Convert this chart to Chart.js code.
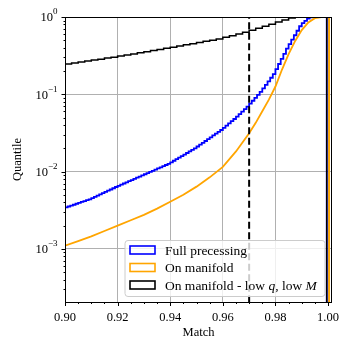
<!DOCTYPE html>
<html>
<head>
<meta charset="utf-8">
<script src="https://cdn.jsdelivr.net/npm/chart.js@4.4.1/dist/chart.umd.min.js"></script>
<style>
  html, body { margin: 0; padding: 0; background: #fff; }
  #wrap { width: 354px; height: 354px; }
</style>
</head>
<body>
<div id="wrap"><canvas id="chart" width="354" height="354"></canvas></div>
<script>
// cumulative quantile of the match
const fullBinStart = 0.900;
const fullBinWidth = 0.001;
const fullQuantile = [
  0.00335, 0.00344, 0.00353, 0.00363, 0.00372, 0.00383, 0.00393, 0.00404, 0.00414, 0.00426,
  0.00437, 0.00453, 0.00470, 0.00488, 0.00506, 0.00525, 0.00545, 0.00565, 0.00586, 0.00608,
  0.00631, 0.00653, 0.00676, 0.00700, 0.00724, 0.00750, 0.00776, 0.00804, 0.00832, 0.00861,
  0.00891, 0.00923, 0.00955, 0.00989, 0.01023, 0.01059, 0.01096, 0.01135, 0.01175, 0.01216,
  0.01259, 0.01318, 0.01380, 0.01445, 0.01514, 0.01585, 0.01660, 0.01738, 0.01820, 0.01905,
  0.01995, 0.02109, 0.02228, 0.02350, 0.02483, 0.02624, 0.02773, 0.02931, 0.03090, 0.03266,
  0.03451, 0.03681, 0.03936, 0.04198, 0.04487, 0.04786, 0.05152, 0.05546, 0.05970, 0.06427,
  0.06918, 0.0755, 0.0824, 0.0899, 0.0982, 0.1072, 0.1191, 0.1324, 0.1472, 0.1637,
  0.1820, 0.2118, 0.2466, 0.2871, 0.3342, 0.3890, 0.4446, 0.5082, 0.5808, 0.6637,
  0.7586, 0.8318, 0.8913, 0.9550, 0.9886, 1, 1, 1, 1, 1
];
const fullEnd = 0.9995;

const manifoldMatch = [
  0.900, 0.905, 0.910, 0.915, 0.920, 0.925, 0.930, 0.935, 0.940, 0.945,
  0.950, 0.955, 0.960, 0.965, 0.970, 0.9725, 0.975, 0.9775, 0.980, 0.9825,
  0.985, 0.9875, 0.990, 0.9925, 0.995, 0.9975, 1.0004
];
const manifoldQuantile = [
  0.00110, 0.00126, 0.00145, 0.00170, 0.00200, 0.00234, 0.00275, 0.00331, 0.00407, 0.00501,
  0.00638, 0.00841, 0.01148, 0.0182, 0.0313, 0.0427, 0.0603, 0.0851, 0.126, 0.209,
  0.331, 0.490, 0.676, 0.851, 0.966, 1, 1
];

const lowBinStart = 0.900;
const lowBinWidth = 0.0025;
const lowQuantile = [
  0.240, 0.247, 0.254, 0.262, 0.269, 0.277, 0.285, 0.294, 0.302, 0.312,
  0.323, 0.333, 0.345, 0.356, 0.368, 0.381, 0.394, 0.407, 0.422, 0.437,
  0.452, 0.468, 0.484, 0.501, 0.519, 0.545, 0.573, 0.603, 0.634, 0.673,
  0.714, 0.759, 0.804, 0.859, 0.912, 0.973, 1, 1, 1, 1
];
const lowEnd = 0.9995;

const matchThreshold = 0.97;

const xMajorTicks = [0.90, 0.92, 0.94, 0.96, 0.98, 1.00];
const xTickLabels = ["0.90", "0.92", "0.94", "0.96", "0.98", "1.00"];
const yMajorTicks = [1e-3, 1e-2, 1e-1, 1];
const yTickExponents = ["\u22123", "\u22122", "\u22121", "0"];

const DROP = 1e-6;
const SERIF = "'Liberation Serif', 'DejaVu Serif', serif";

function stepPoints(start, width, values, end) {
  const pts = values.map((v, i) => ({ x: start + i * width, y: v }));
  pts.push({ x: end, y: values[values.length - 1] });
  pts.push({ x: end, y: DROP });
  return pts;
}

function xMinorTicks() {
  const out = [];
  for (let i = 0; i <= 20; i++) out.push(+(0.9 + i * 0.005).toFixed(3));
  return out;
}

function yMinorTicks() {
  const out = [];
  for (let e = -4; e <= -1; e++) {
    for (let m = 2; m <= 9; m++) {
      const v = m * Math.pow(10, e);
      if (v >= 2.05e-4 && v < 1) out.push(v);
    }
  }
  return out;
}

const legendItems = [
  { color: "#0000ff", parts: [["Full precessing", false]] },
  { color: "#ffa500", parts: [["On manifold", false]] },
  { color: "#000000", parts: [["On manifold - low ", false], ["q", true], [", low ", false], ["M", true]] }
];

const decor = {
  id: "decor",
  afterDraw(chart) {
    const { ctx, chartArea: a, scales: { x, y } } = chart;
    ctx.save();
    ctx.strokeStyle = "#000";
    ctx.fillStyle = "#000";

    // frame
    ctx.lineWidth = 1;
    ctx.strokeRect(a.left + 0.5, a.top + 0.5, a.right - a.left - 1, a.bottom - a.top);

    // tick marks
    xMinorTicks().forEach(v => {
      const px = Math.round(x.getPixelForValue(v)) + 0.5;
      const major = xMajorTicks.some(m => Math.abs(m - v) < 1e-6);
      ctx.beginPath();
      ctx.moveTo(px, a.bottom);
      ctx.lineTo(px, a.bottom + (major ? 4 : 2));
      ctx.stroke();
    });
    yMajorTicks.concat(yMinorTicks()).forEach(v => {
      const py = Math.round(y.getPixelForValue(v)) + 0.5;
      const major = yMajorTicks.includes(v);
      ctx.beginPath();
      ctx.moveTo(a.left + 0.5, py);
      ctx.lineTo(a.left + 0.5 - (major ? 4 : 2), py);
      ctx.stroke();
    });

    // tick labels
    ctx.textBaseline = "middle";
    ctx.textAlign = "center";
    ctx.font = "12.5px " + SERIF;
    xMajorTicks.forEach((v, i) => {
      ctx.fillText(xTickLabels[i], x.getPixelForValue(v), 318);
    });
    ctx.textAlign = "right";
    yMajorTicks.forEach((v, i) => {
      const py = y.getPixelForValue(v);
      ctx.font = "9px " + SERIF;
      const supW = ctx.measureText(yTickExponents[i]).width;
      ctx.fillText(yTickExponents[i], 57.5, py - 5);
      ctx.font = "12.5px " + SERIF;
      ctx.fillText("10", 57.5 - supW, py + 1);
    });

    // legend
    const bx = 125, by = 240.5, bw = 200, bh = 56;
    ctx.beginPath();
    ctx.roundRect(bx, by, bw, bh, 3);
    ctx.fillStyle = "rgba(255,255,255,0.8)";
    ctx.fill();
    ctx.strokeStyle = "#cccccc";
    ctx.lineWidth = 1;
    ctx.stroke();

    const rows = [250, 267.5, 285];
    ctx.textAlign = "left";
    legendItems.forEach((item, i) => {
      ctx.strokeStyle = item.color;
      ctx.lineWidth = 1.6;
      ctx.strokeRect(130, rows[i] - 4, 25, 8);
      let tx = 165;
      ctx.fillStyle = "#000";
      item.parts.forEach(([text, italic]) => {
        ctx.font = (italic ? "italic " : "") + "13.5px " + SERIF;
        ctx.fillText(text, tx, rows[i] + 1);
        tx += ctx.measureText(text).width;
      });
    });
    ctx.restore();
  }
};

new Chart(document.getElementById("chart"), {
  type: "line",
  data: {
    datasets: [
      {
        label: "threshold",
        data: [{ x: matchThreshold, y: DROP }, { x: matchThreshold, y: 10 }],
        borderColor: "#000000",
        borderWidth: 2,
        borderDash: [7, 3.5],
        order: 0
      },
      {
        label: "On manifold - low q, low M",
        data: stepPoints(lowBinStart, lowBinWidth, lowQuantile, lowEnd),
        stepped: "after",
        borderColor: "#000000",
        borderWidth: 1.5,
        order: 1
      },
      {
        label: "On manifold",
        data: manifoldMatch.map((m, i) => ({ x: m, y: manifoldQuantile[i] }))
          .concat([{ x: manifoldMatch[manifoldMatch.length - 1], y: DROP }]),
        borderColor: "#ffa500",
        borderWidth: 1.8,
        order: 2
      },
      {
        label: "Full precessing",
        data: stepPoints(fullBinStart, fullBinWidth, fullQuantile, fullEnd),
        stepped: "after",
        borderColor: "#0000ff",
        borderWidth: 1.8,
        order: 3
      }
    ]
  },
  options: {
    responsive: false,
    animation: false,
    layout: { padding: { left: 0, right: 22, top: 17, bottom: 0 } },
    elements: { point: { radius: 0 }, line: { tension: 0 } },
    datasets: { line: { clip: 0 } },
    plugins: { legend: { display: false }, tooltip: { enabled: false } },
    scales: {
      x: {
        type: "linear",
        min: 0.9,
        max: 1.0015,
        afterBuildTicks: axis => {
          axis.ticks = xMajorTicks.map(v => ({ value: v }));
        },
        afterFit: s => { s.height = 52; },
        grid: { color: "#b0b0b0", lineWidth: 1, drawTicks: false },
        border: { display: false },
        ticks: { display: false },
        title: {
          display: true,
          text: "Match",
          color: "#000",
          font: { family: SERIF, size: 12.5 },
          padding: { top: 13.5, bottom: 13.5 }
        }
      },
      y: {
        type: "logarithmic",
        min: 2.05e-4,
        max: 1,
        afterBuildTicks: axis => {
          axis.ticks = yMajorTicks.map(v => ({ value: v }));
        },
        afterFit: s => { s.width = 65; },
        grid: { color: "#b0b0b0", lineWidth: 1, drawTicks: false },
        border: { display: false },
        ticks: { display: false },
        title: {
          display: true,
          text: "Quantile",
          color: "#000",
          font: { family: SERIF, size: 12.5 },
          padding: { top: 10.5, bottom: 10.5 }
        }
      }
    }
  },
  plugins: [decor]
});
</script>
</body>
</html>
